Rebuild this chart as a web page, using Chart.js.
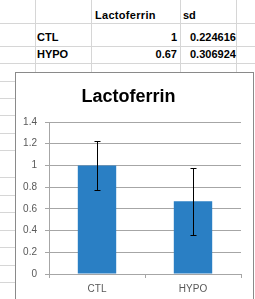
<!DOCTYPE html>
<html>
<head>
<meta charset="utf-8">
<script src="https://cdn.jsdelivr.net/npm/chart.js@4"></script>
<style>
  body { margin: 0; width: 255px; height: 299px; overflow: hidden; background: #fff; position: relative; font-family: "Liberation Sans", Arial, sans-serif; }
  .h { position: absolute; height: 1px; background: #d6d6d6; }
  .v { position: absolute; width: 1px; background: #d6d6d6; }
  .cell { position: absolute; font-weight: bold; font-size: 11px; color: #000; white-space: nowrap; line-height: 11px; }
  .num { text-align: right; }
  #box { position: absolute; left: 15px; top: 72px; width: 237px; height: 240px; border: 1px solid #8a8a8a; background: #fff; }
  #chart { position: absolute; left: 0; top: 0; }
</style>
</head>
<body>
<div id="sheet"></div>
<div id="box"><canvas id="chart" width="237" height="226"></canvas></div>
<script>
// Table / chart data
const categories = ['CTL', 'HYPO'];
const lactoferrin = [1, 0.67];
const sd = [0.224616, 0.306924];
const yTicks = [0, 0.2, 0.4, 0.6, 0.8, 1, 1.2, 1.4];

// Spreadsheet grid behind the chart
const sheet = document.getElementById('sheet');
function line(cls, style) {
    const d = document.createElement('div');
    d.className = cls;
    Object.assign(d.style, style);
    sheet.appendChild(d);
}
[23, 46, 63].forEach(y => line('h', { left: '0px', top: y + 'px', width: '255px' }));
[81, 98, 115, 133, 150, 177, 195, 212, 230, 247, 265, 282].forEach(y =>
    line('h', { left: '0px', top: y + 'px', width: '15px' }));
[35, 91, 180, 236].forEach(x => line('v', { left: x + 'px', top: '0px', height: '72px' }));

function cell(text, style, cls) {
    const d = document.createElement('div');
    d.className = 'cell' + (cls ? ' ' + cls : '');
    d.textContent = text;
    Object.assign(d.style, style);
    sheet.appendChild(d);
}
cell('Lactoferrin', { left: '95px', top: '10px', letterSpacing: '0.3px' });
cell('sd', { left: '183px', top: '10px' });
const rowTops = [32, 49];
categories.forEach((c, i) => {
    cell(c, { left: '37px', top: rowTops[i] + 'px' });
    cell(String(lactoferrin[i]), { left: '120px', width: '57px', top: rowTops[i] + 'px' }, 'num');
    cell(String(sd[i]), { left: '190px', top: rowTops[i] + 'px' });
});

// Error bars drawn with the y scale
const errorBars = {
    id: 'errorBars',
    afterDatasetsDraw(chart) {
        const { ctx, scales: { y } } = chart;
        const meta = chart.getDatasetMeta(0);
        ctx.save();
        ctx.strokeStyle = '#000';
        ctx.lineWidth = 1;
        meta.data.forEach((bar, i) => {
            const x = Math.round(bar.x) + 0.5;
            const top = Math.round(y.getPixelForValue(lactoferrin[i] + sd[i])) + 0.5;
            const bot = Math.round(y.getPixelForValue(lactoferrin[i] - sd[i])) + 0.5;
            ctx.beginPath();
            ctx.moveTo(x, top); ctx.lineTo(x, bot);
            ctx.moveTo(x - 3, top); ctx.lineTo(x + 3, top);
            ctx.moveTo(x - 3, bot); ctx.lineTo(x + 3, bot);
            ctx.stroke();
        });
        ctx.restore();
    }
};

const ctx = document.getElementById('chart').getContext('2d');
new Chart(ctx, {
    type: 'bar',
    data: {
        labels: categories,
        datasets: [{
            label: 'Lactoferrin',
            data: lactoferrin,
            backgroundColor: '#2a7fc4',
            barPercentage: 0.4,
            categoryPercentage: 1
        }]
    },
    options: {
        responsive: false,
        devicePixelRatio: 1,
        animation: false,
        layout: { padding: { left: 0, right: 12, top: 0, bottom: 0 } },
        plugins: {
            legend: { display: false },
            tooltip: { enabled: false },
            title: {
                display: true,
                text: 'Lactoferrin',
                color: '#000',
                font: { family: 'Liberation Sans', size: 18, weight: 'bold' },
                padding: { top: 13, bottom: 14.4 }
            }
        },
        scales: {
            x: {
                afterFit: s => { s.height = 25; },
                grid: { drawOnChartArea: false, drawTicks: true, tickLength: 4, color: '#a6a6a6', offset: true },
                border: { color: '#a6a6a6' },
                ticks: { color: '#595959', padding: 5, font: { family: 'Liberation Sans', size: 10 } }
            },
            y: {
                min: 0,
                max: 1.4,
                afterFit: s => { s.width = 33; },
                afterBuildTicks: s => { s.ticks = yTicks.map(v => ({ value: v })); },
                grid: { color: '#a6a6a6', tickLength: 4 },
                border: { color: '#a6a6a6' },
                ticks: {
                    color: '#595959',
                    padding: 8,
                    font: { family: 'Liberation Sans', size: 10 },
                    callback: v => String(v)
                }
            }
        }
    },
    plugins: [errorBars]
});
</script>
</body>
</html>
